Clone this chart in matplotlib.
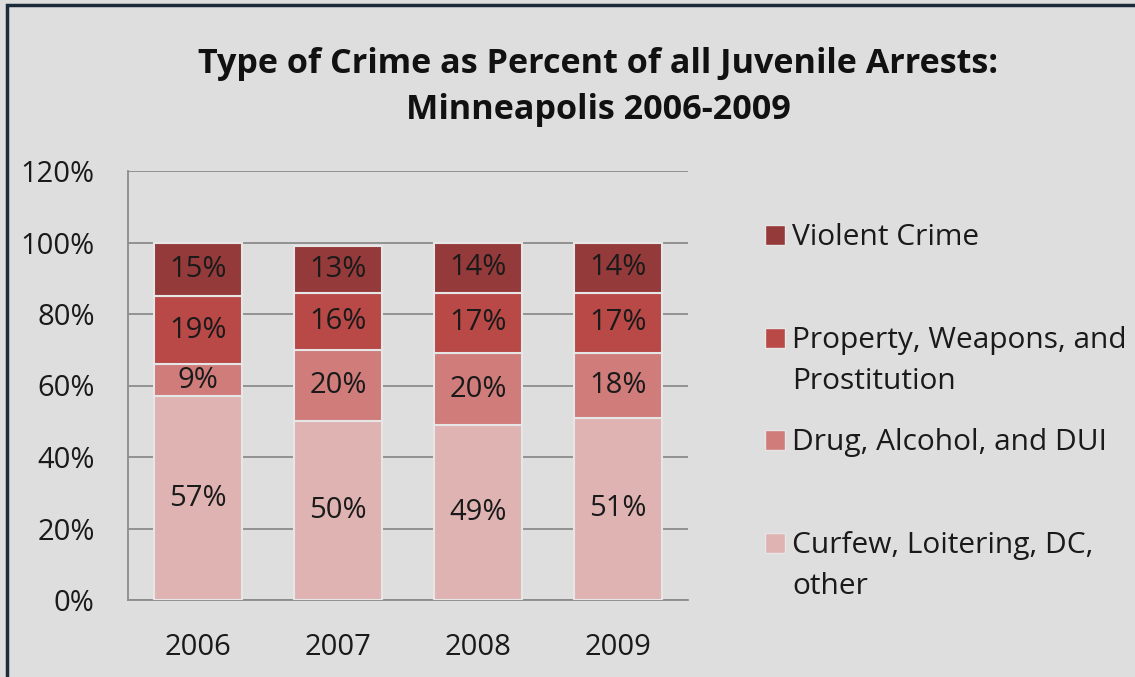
import numpy as np
import matplotlib
matplotlib.use('Agg')
import matplotlib.pyplot as plt
from matplotlib.patches import Rectangle

plt.rcParams['font.family'] = ['Open Sans', 'DejaVu Sans']

# data (percent of all juvenile arrests)
years = ['2006', '2007', '2008', '2009']
curfew = [57, 50, 49, 51]
drug = [9, 20, 20, 18]
property_ = [19, 16, 17, 17]
violent = [15, 13, 14, 14]

series = [curfew, drug, property_, violent]
names = ['Curfew, Loitering, DC,\nother', 'Drug, Alcohol, and DUI',
         'Property, Weapons, and\nProstitution', 'Violent Crime']
colors = ['#e0b3b3', '#cf7c7b', '#b84947', '#953a3a']

bg = '#dedede'
W, H = 1135, 677
fig = plt.figure(figsize=(W/100, H/100), dpi=100, facecolor=bg)

# dark frame (cut off on right and bottom like the original)
fig.patches.append(Rectangle((7/W, -0.1), 1.2, (H - 5)/H + 0.1, transform=fig.transFigure,
                             fill=False, edgecolor='#1c2b3a', linewidth=2.5))

ax = fig.add_axes([128/W, (H-600)/H, 560/W, (600-171)/H])
ax.set_facecolor(bg)

x = np.arange(len(years))
bottom = np.zeros(len(years))
for vals, col in zip(series, colors):
    bars = ax.bar(x, vals, 0.63, bottom=bottom, color=col,
                  edgecolor='#e6e6e6', linewidth=1.5, zorder=3)
    ax.bar_label(bars, labels=[f'{v}%' for v in vals], label_type='center',
                 fontsize=21, color='#1a1a1a')
    bottom += np.array(vals)

ax.set_xlim(-0.5, 3.5)
ax.set_ylim(0, 120)
ax.set_yticks(np.arange(0, 121, 20))
ax.set_yticklabels([f'{v}%' for v in range(0, 121, 20)])
ax.set_xticks(x)
ax.set_xticklabels(years)
ax.tick_params(axis='both', length=0, labelsize=21, colors='#1a1a1a')
ax.tick_params(axis='y', pad=24)
ax.tick_params(axis='x', pad=24)
ax.yaxis.grid(True, color='#8c8c8c', linewidth=1.3, zorder=0)
ax.set_axisbelow(True)
for s in ['top', 'right']:
    ax.spines[s].set_visible(False)
ax.spines['left'].set_color('#8c8c8c')
ax.spines['bottom'].set_color('#8c8c8c')
ax.spines['left'].set_linewidth(1.3)
ax.spines['bottom'].set_linewidth(1.3)

fig.text(598/W, 1 - 73/H, 'Type of Crime as Percent of all Juvenile Arrests:',
         ha='center', va='baseline', fontsize=24.6, fontweight='bold', color='#111111')
fig.text(598/W, 1 - 119/H, 'Minneapolis 2006-2009',
         ha='center', va='baseline', fontsize=24.6, fontweight='bold', color='#111111')

# legend drawn by hand, baselines of first lines evenly spaced
leg_base = [245, 348, 450, 553]
for yy, name, col in zip(leg_base, names[::-1], colors[::-1]):
    fig.patches.append(Rectangle((765/W, 1 - yy/H), 20/W, 20/H,
                                 transform=fig.transFigure, facecolor=col,
                                 edgecolor='#e6e6e6', linewidth=1))
    for i, line in enumerate(name.split('\n')):
        fig.text(792/W, 1 - (yy + i*41)/H, line, ha='left', va='baseline',
                 fontsize=21.5, color='#1a1a1a')

fig.savefig('out.png', dpi=100, facecolor=bg)
